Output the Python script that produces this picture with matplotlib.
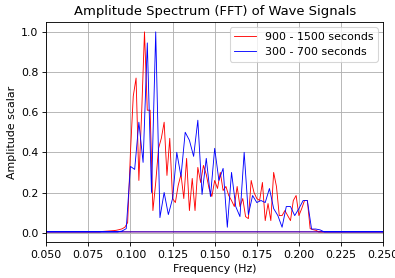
import numpy as np
import matplotlib
matplotlib.use("Agg")
import matplotlib.pyplot as plt

# window lengths (s), sampled at 1 Hz
n_late = 600   # 900 - 1500 s
n_early = 400  # 300 - 700 s

# amplitude of the 900-1500 s window, bins k/600 for k = 50 .. 126
late_start = 50
late_amp = [0.006, 0.007, 0.008, 0.009, 0.010, 0.012, 0.015, 0.019, 0.027, 0.05,
            0.40, 0.68, 0.77, 0.26, 0.60, 1.00, 0.61, 0.61, 0.11, 0.25,
            0.42, 0.47, 0.55, 0.285, 0.47, 0.17, 0.15, 0.235, 0.29, 0.17,
            0.37, 0.11, 0.27, 0.11, 0.325, 0.25, 0.335, 0.29, 0.22, 0.18,
            0.26, 0.22, 0.30, 0.21, 0.23, 0.185, 0.16, 0.13, 0.23, 0.13,
            0.17, 0.08, 0.07, 0.26, 0.20, 0.17, 0.16, 0.25, 0.06, 0.145,
            0.06, 0.30, 0.23, 0.085, 0.085, 0.11, 0.085, 0.06, 0.16, 0.185,
            0.085, 0.12, 0.16, 0.16, 0.02, 0.015, 0.012]

# amplitude of the 300-700 s window, bins k/400 for k = 38 .. 85
early_start = 38
early_amp = [0.008, 0.02,
             0.33, 0.315, 0.55, 0.35, 0.945, 0.20, 1.00, 0.075, 0.20, 0.09,
             0.17, 0.40, 0.28, 0.50, 0.46, 0.38, 0.56, 0.19, 0.37, 0.18,
             0.42, 0.26, 0.32, 0.027, 0.30, 0.13, 0.08, 0.40, 0.09, 0.185,
             0.15, 0.16, 0.15, 0.22, 0.12, 0.085, 0.027, 0.13, 0.13, 0.085,
             0.12, 0.16, 0.16, 0.018, 0.018, 0.014]

base_level = 0.004


def spectrum(n, start, values):
    freq = np.fft.fftfreq(n, d=1.0)
    amp = np.full(n, base_level)
    for i, v in enumerate(values):
        k = start + i
        amp[k] = v
        amp[-k] = v
    return freq, amp


f_late, a_late = spectrum(n_late, late_start, late_amp)
f_early, a_early = spectrum(n_early, early_start, early_amp)

fig = plt.figure(figsize=(5, 3.52), dpi=79)
plt.plot(f_late, a_late, color="red", lw=0.8, label="900 - 1500 seconds")
plt.plot(f_early, a_early, color="blue", lw=0.8, label="300 - 700 seconds")
plt.xlim(0.05, 0.25)
plt.title("Amplitude Spectrum (FFT) of Wave Signals")
plt.xlabel("Frequency (Hz)")
plt.ylabel("Amplitude scalar")
plt.legend()
plt.grid(True)
plt.subplots_adjust(left=0.117, right=0.970, top=0.921, bottom=0.130)
plt.savefig("out.png")
